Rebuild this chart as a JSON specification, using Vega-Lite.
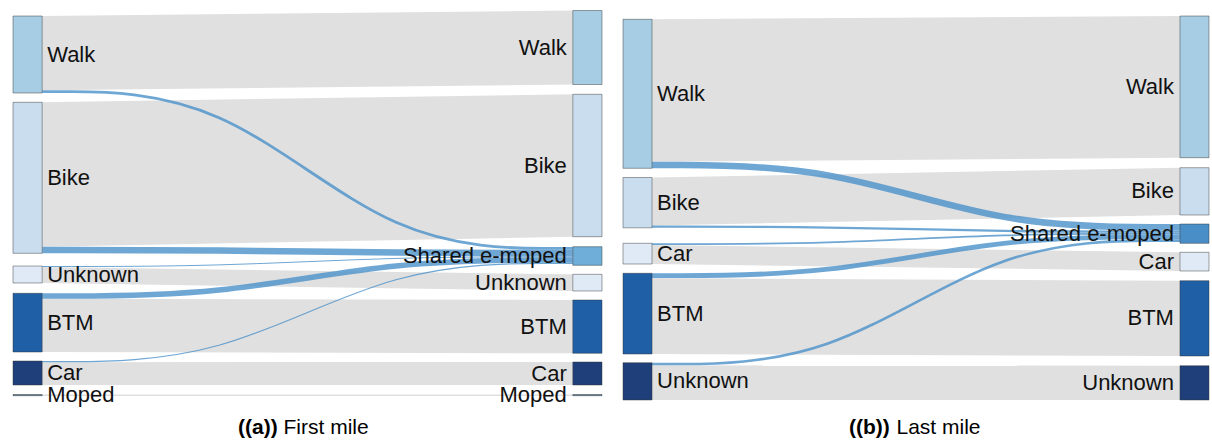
{
  "$schema": "https://vega.github.io/schema/vega-lite/v6.json",
  "padding": {"left": 12, "top": 0, "right": 0, "bottom": 0},
  "background": "white",
  "config": {"view": {"stroke": null}, "font": "Liberation Sans"},
  "spacing": 19,
  "resolve": {"scale": {"fill": "independent", "color": "independent"}},
  "datasets": {
    "a_nodes": [
      {"node": "Walk", "side": "source", "y0": 16, "y1": 93},
      {"node": "Bike", "side": "source", "y0": 102.3, "y1": 253.3},
      {"node": "Unknown", "side": "source", "y0": 266, "y1": 283},
      {"node": "BTM", "side": "source", "y0": 293.3, "y1": 352},
      {"node": "Car", "side": "source", "y0": 361, "y1": 385},
      {"node": "Moped", "side": "source", "y0": 394.5, "y1": 395.7},
      {"node": "Walk", "side": "target", "y0": 10.5, "y1": 84.5},
      {"node": "Bike", "side": "target", "y0": 94.3, "y1": 236.7},
      {"node": "Shared e-moped", "side": "target", "y0": 246.7, "y1": 265.3},
      {"node": "Unknown", "side": "target", "y0": 274.3, "y1": 291},
      {"node": "BTM", "side": "target", "y0": 300, "y1": 353.3},
      {"node": "Car", "side": "target", "y0": 362, "y1": 385},
      {"node": "Moped", "side": "target", "y0": 394.5, "y1": 395.7}
    ],
    "a_bands": [
      {"flow": "Walk", "stage": 0, "top": 16, "bottom": 90.2},
      {"flow": "Walk", "stage": 1, "top": 10.5, "bottom": 84.5},
      {"flow": "Bike", "stage": 0, "top": 102.3, "bottom": 246.8},
      {"flow": "Bike", "stage": 1, "top": 94.3, "bottom": 236.7},
      {"flow": "Unknown", "stage": 0, "top": 267, "bottom": 283},
      {"flow": "Unknown", "stage": 1, "top": 274.3, "bottom": 291},
      {"flow": "BTM", "stage": 0, "top": 298.8, "bottom": 352},
      {"flow": "BTM", "stage": 1, "top": 300, "bottom": 353.3},
      {"flow": "Car", "stage": 0, "top": 362.2, "bottom": 385},
      {"flow": "Car", "stage": 1, "top": 362, "bottom": 385},
      {"flow": "Moped", "stage": 0, "top": 394.4, "bottom": 395.9},
      {"flow": "Moped", "stage": 1, "top": 394.4, "bottom": 395.9}
    ],
    "a_links": [
      {"from": "Walk", "k": 0, "stage": 0, "y": 91.6, "flow": 2.8},
      {"from": "Walk", "k": 1, "stage": 0.3333, "y": 91.6, "flow": 2.8},
      {"from": "Walk", "k": 2, "stage": 0.6667, "y": 248.4, "flow": 2.8},
      {"from": "Walk", "k": 3, "stage": 1, "y": 248.4, "flow": 2.8},
      {"from": "Bike", "k": 0, "stage": 0, "y": 250, "flow": 6.5},
      {"from": "Bike", "k": 1, "stage": 0.3333, "y": 250, "flow": 6.5},
      {"from": "Bike", "k": 2, "stage": 0.6667, "y": 253, "flow": 6.5},
      {"from": "Bike", "k": 3, "stage": 1, "y": 253, "flow": 6.5},
      {"from": "Unknown", "k": 0, "stage": 0, "y": 266.5, "flow": 1},
      {"from": "Unknown", "k": 1, "stage": 0.3333, "y": 266.5, "flow": 1},
      {"from": "Unknown", "k": 2, "stage": 0.6667, "y": 256.8, "flow": 1},
      {"from": "Unknown", "k": 3, "stage": 1, "y": 256.8, "flow": 1},
      {"from": "BTM", "k": 0, "stage": 0, "y": 296, "flow": 5.5},
      {"from": "BTM", "k": 1, "stage": 0.3333, "y": 296, "flow": 5.5},
      {"from": "BTM", "k": 2, "stage": 0.6667, "y": 260, "flow": 5.5},
      {"from": "BTM", "k": 3, "stage": 1, "y": 260, "flow": 5.5},
      {"from": "Car", "k": 0, "stage": 0, "y": 361.6, "flow": 1.2},
      {"from": "Car", "k": 1, "stage": 0.3333, "y": 361.6, "flow": 1.2},
      {"from": "Car", "k": 2, "stage": 0.6667, "y": 263.4, "flow": 1.2},
      {"from": "Car", "k": 3, "stage": 1, "y": 263.4, "flow": 1.2}
    ],
    "b_nodes": [
      {"node": "Walk", "side": "source", "y0": 19.3, "y1": 168.3},
      {"node": "Bike", "side": "source", "y0": 177.5, "y1": 227.8},
      {"node": "Car", "side": "source", "y0": 243.3, "y1": 264},
      {"node": "BTM", "side": "source", "y0": 273.3, "y1": 354},
      {"node": "Unknown", "side": "source", "y0": 362.7, "y1": 400},
      {"node": "Walk", "side": "target", "y0": 16, "y1": 157.7},
      {"node": "Bike", "side": "target", "y0": 167.7, "y1": 215},
      {"node": "Shared e-moped", "side": "target", "y0": 224, "y1": 243.3},
      {"node": "Car", "side": "target", "y0": 252.3, "y1": 271},
      {"node": "BTM", "side": "target", "y0": 280.7, "y1": 356},
      {"node": "Unknown", "side": "target", "y0": 365.7, "y1": 400}
    ],
    "b_bands": [
      {"flow": "Walk", "stage": 0, "top": 19.3, "bottom": 161.8},
      {"flow": "Walk", "stage": 1, "top": 16, "bottom": 157.7},
      {"flow": "Bike", "stage": 0, "top": 177.5, "bottom": 225.5},
      {"flow": "Bike", "stage": 1, "top": 167.7, "bottom": 215},
      {"flow": "Car", "stage": 0, "top": 245, "bottom": 264},
      {"flow": "Car", "stage": 1, "top": 252.3, "bottom": 271},
      {"flow": "BTM", "stage": 0, "top": 278.1, "bottom": 354},
      {"flow": "BTM", "stage": 1, "top": 280.7, "bottom": 356},
      {"flow": "Unknown", "stage": 0, "top": 365.3, "bottom": 400},
      {"flow": "Unknown", "stage": 1, "top": 365.7, "bottom": 400}
    ],
    "b_links": [
      {"from": "Walk", "k": 0, "stage": 0, "y": 165, "flow": 6.5},
      {"from": "Walk", "k": 1, "stage": 0.3333, "y": 165, "flow": 6.5},
      {"from": "Walk", "k": 2, "stage": 0.6667, "y": 227.3, "flow": 6.5},
      {"from": "Walk", "k": 3, "stage": 1, "y": 227.3, "flow": 6.5},
      {"from": "Bike", "k": 0, "stage": 0, "y": 226.7, "flow": 2.3},
      {"from": "Bike", "k": 1, "stage": 0.3333, "y": 226.7, "flow": 2.3},
      {"from": "Bike", "k": 2, "stage": 0.6667, "y": 231.7, "flow": 2.3},
      {"from": "Bike", "k": 3, "stage": 1, "y": 231.7, "flow": 2.3},
      {"from": "Car", "k": 0, "stage": 0, "y": 244.1, "flow": 1.7},
      {"from": "Car", "k": 1, "stage": 0.3333, "y": 244.1, "flow": 1.7},
      {"from": "Car", "k": 2, "stage": 0.6667, "y": 233.7, "flow": 1.7},
      {"from": "Car", "k": 3, "stage": 1, "y": 233.7, "flow": 1.7},
      {"from": "BTM", "k": 0, "stage": 0, "y": 275.7, "flow": 4.8},
      {"from": "BTM", "k": 1, "stage": 0.3333, "y": 275.7, "flow": 4.8},
      {"from": "BTM", "k": 2, "stage": 0.6667, "y": 236.9, "flow": 4.8},
      {"from": "BTM", "k": 3, "stage": 1, "y": 236.9, "flow": 4.8},
      {"from": "Unknown", "k": 0, "stage": 0, "y": 364, "flow": 2.6},
      {"from": "Unknown", "k": 1, "stage": 0.3333, "y": 364, "flow": 2.6},
      {"from": "Unknown", "k": 2, "stage": 0.6667, "y": 240.6, "flow": 2.6},
      {"from": "Unknown", "k": 3, "stage": 1, "y": 240.6, "flow": 2.6}
    ]
  },
  "hconcat": [
    {
      "width": 589,
      "height": 400,
      "title": {"text": "((a))", "orient": "bottom", "anchor": "start", "frame": "group", "dx": 225, "dy": -24, "fontWeight": "bold", "fontSize": 21, "font": "Liberation Sans", "color": "#000000"},
      "layer": [
        {
          "data": {"name": "a_bands"},
          "mark": {"type": "area", "color": "#e0e0e0", "opacity": 1},
          "encoding": {
            "x": {"field": "stage", "type": "quantitative", "scale": {"domain": [-0.055, 1.055], "nice": false, "zero": false},
                  "axis": {"orient": "bottom", "domain": false, "ticks": false, "labels": false, "grid": false, "title": "First mile", "titleFontSize": 21, "titleFontWeight": "normal", "titleFont": "Liberation Sans", "titleColor": "#000000", "titleX": 270, "titleY": 27, "titleAlign": "left", "titleBaseline": "middle"}},
            "y": {"field": "top", "type": "quantitative", "scale": {"domain": [0, 400], "reverse": true, "nice": false, "zero": false}, "axis": null},
            "y2": {"field": "bottom"},
            "detail": {"field": "flow"}
          }
        },
        {
          "data": {"name": "a_links"},
          "mark": {"type": "line", "interpolate": "basis", "color": "#4a90c9", "opacity": 0.8, "strokeCap": "butt"},
          "encoding": {
            "x": {"field": "stage", "type": "quantitative"},
            "y": {"field": "y", "type": "quantitative"},
            "detail": {"field": "from"},
            "order": {"field": "k", "type": "quantitative"},
            "strokeWidth": {"field": "flow", "type": "quantitative", "scale": null, "legend": null}
          }
        },
        {
          "data": {"name": "a_nodes"},
          "transform": [{"filter": "datum.side === 'source'"}],
          "mark": {"type": "rect", "stroke": "#333333", "strokeOpacity": 0.45, "strokeWidth": 1},
          "encoding": {
            "x": {"datum": -0.055},
            "x2": {"datum": 0},
            "y": {"field": "y0", "type": "quantitative"},
            "y2": {"field": "y1"},
            "fill": {"field": "node", "type": "nominal", "legend": null,
                     "scale": {"domain": ["Walk", "Bike", "Shared e-moped", "Unknown", "BTM", "Car", "Moped"], "range": ["#a6cde3", "#c9ddef", "#6eaed8", "#dfeaf6", "#1f5fa6", "#1f3f7a", "#4a7aa3"]}}
          }
        },
        {
          "data": {"name": "a_nodes"},
          "transform": [{"filter": "datum.side === 'target'"}],
          "mark": {"type": "rect", "stroke": "#333333", "strokeOpacity": 0.45, "strokeWidth": 1},
          "encoding": {
            "x": {"datum": 1},
            "x2": {"datum": 1.055},
            "y": {"field": "y0", "type": "quantitative"},
            "y2": {"field": "y1"},
            "fill": {"field": "node", "type": "nominal", "legend": null}
          }
        },
        {
          "data": {"name": "a_nodes"},
          "transform": [{"filter": "datum.side === 'source'"}, {"calculate": "(datum.y0 + datum.y1) / 2", "as": "mid"}],
          "mark": {"type": "text", "align": "left", "baseline": "middle", "dx": 5, "fontSize": 22, "font": "Liberation Sans", "color": "#111111"},
          "encoding": {
            "x": {"datum": 0},
            "y": {"field": "mid", "type": "quantitative"},
            "text": {"field": "node"}
          }
        },
        {
          "data": {"name": "a_nodes"},
          "transform": [{"filter": "datum.side === 'target'"}, {"calculate": "(datum.y0 + datum.y1) / 2", "as": "mid"}],
          "mark": {"type": "text", "align": "right", "baseline": "middle", "dx": -6, "fontSize": 22, "font": "Liberation Sans", "color": "#111111"},
          "encoding": {
            "x": {"datum": 1},
            "y": {"field": "mid", "type": "quantitative"},
            "text": {"field": "node"}
          }
        }
      ]
    },
    {
      "width": 586,
      "height": 400,
      "title": {"text": "((b))", "orient": "bottom", "anchor": "start", "frame": "group", "dx": 226, "dy": -24, "fontWeight": "bold", "fontSize": 21, "font": "Liberation Sans", "color": "#000000"},
      "layer": [
        {
          "data": {"name": "b_bands"},
          "mark": {"type": "area", "color": "#e0e0e0", "opacity": 1},
          "encoding": {
            "x": {"field": "stage", "type": "quantitative", "scale": {"domain": [-0.055, 1.055], "nice": false, "zero": false},
                  "axis": {"orient": "bottom", "domain": false, "ticks": false, "labels": false, "grid": false, "title": "Last mile", "titleFontSize": 21, "titleFontWeight": "normal", "titleFont": "Liberation Sans", "titleColor": "#000000", "titleX": 273, "titleY": 27, "titleAlign": "left", "titleBaseline": "middle"}},
            "y": {"field": "top", "type": "quantitative", "scale": {"domain": [0, 400], "reverse": true, "nice": false, "zero": false}, "axis": null},
            "y2": {"field": "bottom"},
            "detail": {"field": "flow"}
          }
        },
        {
          "data": {"name": "b_links"},
          "mark": {"type": "line", "interpolate": "basis", "color": "#4a90c9", "opacity": 0.8, "strokeCap": "butt"},
          "encoding": {
            "x": {"field": "stage", "type": "quantitative"},
            "y": {"field": "y", "type": "quantitative"},
            "detail": {"field": "from"},
            "order": {"field": "k", "type": "quantitative"},
            "strokeWidth": {"field": "flow", "type": "quantitative", "scale": null, "legend": null}
          }
        },
        {
          "data": {"name": "b_nodes"},
          "transform": [{"filter": "datum.side === 'source'"}],
          "mark": {"type": "rect", "stroke": "#333333", "strokeOpacity": 0.45, "strokeWidth": 1},
          "encoding": {
            "x": {"datum": -0.055},
            "x2": {"datum": 0},
            "y": {"field": "y0", "type": "quantitative"},
            "y2": {"field": "y1"},
            "fill": {"field": "node", "type": "nominal", "legend": null,
                     "scale": {"domain": ["Walk", "Bike", "Shared e-moped", "Car", "BTM", "Unknown"], "range": ["#a6cde3", "#c9ddef", "#4a8ec8", "#dfeaf6", "#1f5fa6", "#1f3f7a"]}}
          }
        },
        {
          "data": {"name": "b_nodes"},
          "transform": [{"filter": "datum.side === 'target'"}],
          "mark": {"type": "rect", "stroke": "#333333", "strokeOpacity": 0.45, "strokeWidth": 1},
          "encoding": {
            "x": {"datum": 1},
            "x2": {"datum": 1.055},
            "y": {"field": "y0", "type": "quantitative"},
            "y2": {"field": "y1"},
            "fill": {"field": "node", "type": "nominal", "legend": null}
          }
        },
        {
          "data": {"name": "b_nodes"},
          "transform": [{"filter": "datum.side === 'source'"}, {"calculate": "(datum.y0 + datum.y1) / 2", "as": "mid"}],
          "mark": {"type": "text", "align": "left", "baseline": "middle", "dx": 5, "fontSize": 22, "font": "Liberation Sans", "color": "#111111"},
          "encoding": {
            "x": {"datum": 0},
            "y": {"field": "mid", "type": "quantitative"},
            "text": {"field": "node"}
          }
        },
        {
          "data": {"name": "b_nodes"},
          "transform": [{"filter": "datum.side === 'target'"}, {"calculate": "(datum.y0 + datum.y1) / 2", "as": "mid"}],
          "mark": {"type": "text", "align": "right", "baseline": "middle", "dx": -6, "fontSize": 22, "font": "Liberation Sans", "color": "#111111"},
          "encoding": {
            "x": {"datum": 1},
            "y": {"field": "mid", "type": "quantitative"},
            "text": {"field": "node"}
          }
        }
      ]
    }
  ]
}
